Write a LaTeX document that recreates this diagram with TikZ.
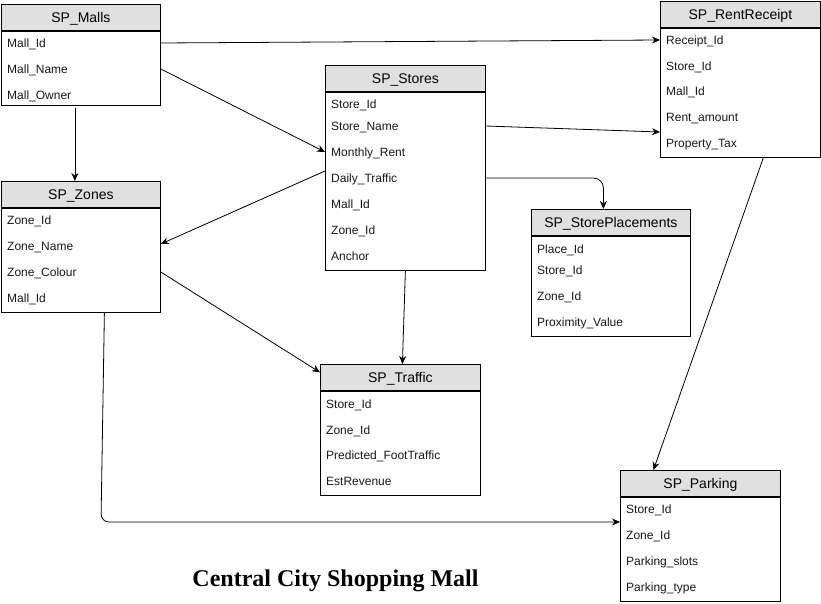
\documentclass[tikz,border=0pt]{standalone}
\usepackage{fontspec}
\setmainfont{Liberation Serif}
\setsansfont{Liberation Sans}
\usetikzlibrary{arrows.meta,calc}
\definecolor{hdrgray}{HTML}{E0E0E0}
\begin{document}
\begin{tikzpicture}[x=1pt,y=-1pt,
  hdr/.style={draw=black,line width=0.8pt,fill=hdrgray,minimum height=26pt,anchor=north west,inner sep=0pt,text height=10pt,text depth=-1pt,font=\sffamily\fontsize{14}{16}\selectfont},
  tbody/.style={draw=black,line width=0.8pt,fill=white,anchor=north west,inner sep=0pt},
  row/.style={anchor=west,inner sep=0pt,text height=8.6pt,text depth=0pt,font=\sffamily\fontsize{12}{14}\selectfont,text=black!90},
  conn/.style={draw=black,line width=0.8pt,-{Stealth[length=8pt,width=7pt]}},
  title/.style={font=\bfseries\fontsize{24}{28}\selectfont}
]
\useasboundingbox (0,0) rectangle (821,604);
% SP_Malls
\node[hdr,minimum width=159pt] (malls) at (1,4) {SP\_Malls};
\node[tbody,minimum width=159pt,minimum height=74pt] (mallsb) at (malls.south west) {};
\node[row] (m1) at (7,43) {Mall\_Id};
\node[row] (m2) at (7,69) {Mall\_Name};
\node[row] (m3) at (7,95) {Mall\_Owner};
% SP_Zones
\node[hdr,minimum width=159pt] (zones) at (1,181) {SP\_Zones};
\node[tbody,minimum width=159pt,minimum height=104pt] (zonesb) at (zones.south west) {};
\node[row] (z1) at (7,220) {Zone\_Id};
\node[row] (z2) at (7,246) {Zone\_Name};
\node[row] (z3) at (7,272) {Zone\_Colour};
\node[row] (z4) at (7,298) {Mall\_Id};
% SP_Stores
\node[hdr,minimum width=160pt] (stores) at (325,65) {SP\_Stores};
\node[tbody,minimum width=160pt,minimum height=178pt] (storesb) at (stores.south west) {};
\node[row] (s1) at (331,104) {Store\_Id};
\node[row] (s2) at (331,126) {Store\_Name};
\node[row] (s3) at (331,152) {Monthly\_Rent};
\node[row] (s4) at (331,178) {Daily\_Traffic};
\node[row] (s5) at (331,204) {Mall\_Id};
\node[row] (s6) at (331,230) {Zone\_Id};
\node[row] (s7) at (331,256) {Anchor};
% SP_RentReceipt
\node[hdr,minimum width=160pt] (rr) at (660,1) {SP\_RentReceipt};
\node[tbody,minimum width=160pt,minimum height=129pt] (rrb) at (rr.south west) {};
\node[row] (r1) at (666,40) {Receipt\_Id};
\node[row] (r2) at (666,66) {Store\_Id};
\node[row] (r3) at (666,91) {Mall\_Id};
\node[row] (r4) at (666,117) {Rent\_amount};
\node[row] (r5) at (666,143) {Property\_Tax};
% SP_StorePlacements
\node[hdr,minimum width=159pt] (sp) at (531,209) {SP\_StorePlacements};
\node[tbody,minimum width=159pt,minimum height=100pt] (spb) at (sp.south west) {};
\node[row] (p1) at (537,249) {Place\_Id};
\node[row] (p2) at (537,270) {Store\_Id};
\node[row] (p3) at (537,296) {Zone\_Id};
\node[row] (p4) at (537,322) {Proximity\_Value};
% SP_Traffic
\node[hdr,minimum width=160pt] (tr) at (320,364) {SP\_Traffic};
\node[tbody,minimum width=160pt,minimum height=104pt] (trb) at (tr.south west) {};
\node[row] (t1) at (326,404) {Store\_Id};
\node[row] (t2) at (326,430) {Zone\_Id};
\node[row] (t3) at (326,455) {Predicted\_FootTraffic};
\node[row] (t4) at (326,481) {EstRevenue};
% SP_Parking
\node[hdr,minimum width=160pt] (pk) at (620,470) {SP\_Parking};
\node[tbody,minimum width=160pt,minimum height=104pt] (pkb) at (pk.south west) {};
\node[row] (k1) at (626,509) {Store\_Id};
\node[row] (k2) at (626,535) {Zone\_Id};
\node[row] (k3) at (626,561) {Parking\_slots};
\node[row] (k4) at (626,587) {Parking\_type};
% title
\node[title] (ttl) at (335.5,581) {Central City Shopping Mall};
% connectors
\draw[conn] (mallsb.east |- m1) -- (rrb.west |- r1);
\draw[conn] (mallsb.east |- m2) -- (storesb.west |- s3);
\draw[conn] ([xshift=-6pt,yshift=-2pt]mallsb.south) -- ([xshift=-6pt]zones.north);
\draw[conn] ([yshift=7pt]storesb.west |- s4) -- ([yshift=2pt]zonesb.east |- z2);
\draw[conn] (storesb.east |- s2) -- ([yshift=11pt]rrb.west |- r5);
\draw[conn,rounded corners=10pt] (storesb.east |- s4) -| ([xshift=-7.5pt]sp.north);
\draw[conn] (storesb.south) -- ([xshift=2pt]tr.north);
\draw[conn] (zonesb.east |- z3) -- ([yshift=5pt]tr.west);
\coordinate (zbend) at (101,522);
\draw[conn,rounded corners=8pt] ([xshift=23.5pt]zonesb.south) -- (zbend) -- (pkb.west |- zbend);
\draw[conn] ([xshift=23pt]rrb.south) -- ([xshift=-47pt]pk.north);
\end{tikzpicture}
\end{document}
